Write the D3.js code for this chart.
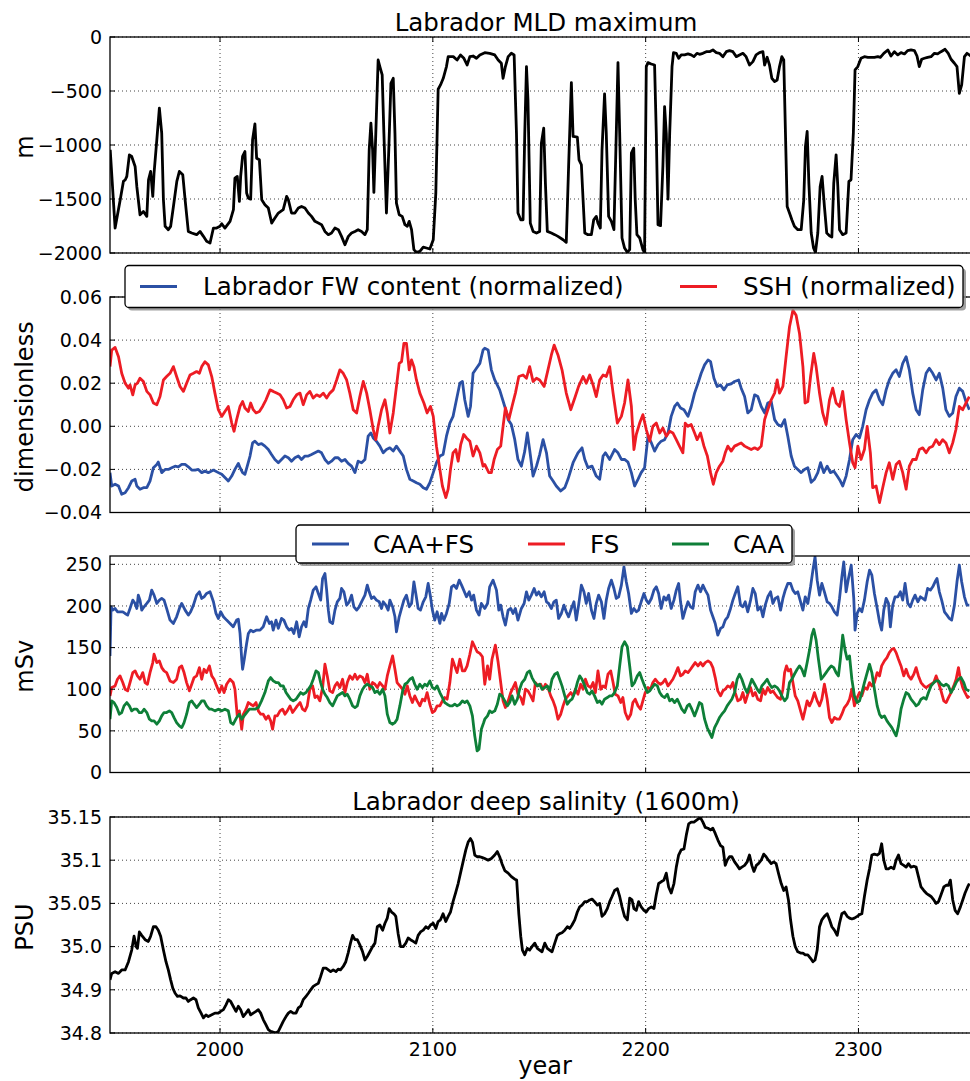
<!DOCTYPE html>
<html>
<head>
<meta charset="utf-8">
<script src="https://cdn.jsdelivr.net/npm/d3@7"></script>
<style>
body { margin: 0; background: #fff; }
text { font-family: "DejaVu Sans", sans-serif; fill: #000; }
</style>
</head>
<body>
<svg id="chart" width="970" height="1081"></svg>
<script>
/* values: [year, value] */
var mld = [[1948.4,-1045],[1950.7,-1769],[1953.1,-1507],[1954.6,-1337],[1955.5,-1322],[1956.2,-1291],[1957.4,-1091],[1958.5,-1106],[1960.1,-1199],[1960.9,-1384],[1962.4,-1646],[1964.0,-1615],[1965.6,-1661],[1966.4,-1322],[1967.4,-1245],[1968.4,-1476],[1969.0,-1260],[1970.3,-952],[1971.5,-659],[1972.6,-891],[1973.4,-1507],[1974.2,-1753],[1975.7,-1784],[1976.8,-1753],[1978.1,-1569],[1979.7,-1337],[1980.9,-1245],[1982.5,-1276],[1983.6,-1507],[1985.1,-1800],[1986.7,-1815],[1989.0,-1830],[1990.6,-1800],[1992.2,-1846],[1993.7,-1892],[1995.3,-1908],[1996.9,-1769],[1998.4,-1769],[2000.0,-1753],[2000.8,-1729],[2002.3,-1769],[2004.7,-1707],[2006.3,-1599],[2007.0,-1307],[2008.1,-1291],[2009.1,-1522],[2009.7,-1291],[2010.6,-1106],[2011.7,-1060],[2012.5,-1445],[2013.3,-1492],[2014.4,-1501],[2015.3,-952],[2016.4,-804],[2017.2,-1122],[2018.5,-1137],[2019.6,-1507],[2021.1,-1553],[2022.7,-1584],[2024.3,-1723],[2025.8,-1676],[2027.4,-1630],[2029.7,-1599],[2031.3,-1476],[2032.1,-1507],[2033.6,-1630],[2035.2,-1630],[2036.8,-1584],[2038.3,-1569],[2039.9,-1584],[2041.5,-1630],[2043.0,-1661],[2044.6,-1707],[2046.2,-1723],[2047.7,-1738],[2049.3,-1800],[2050.9,-1830],[2052.4,-1815],[2054.0,-1769],[2055.6,-1784],[2057.1,-1846],[2058.7,-1923],[2060.3,-1846],[2061.8,-1815],[2063.4,-1800],[2064.9,-1784],[2066.5,-1800],[2068.1,-1830],[2069.2,-1784],[2070.1,-1045],[2070.9,-798],[2071.7,-1045],[2072.3,-1439],[2073.2,-891],[2074.3,-213],[2075.1,-274],[2076.2,-351],[2077.0,-891],[2078.2,-1630],[2079.3,-1045],[2080.3,-428],[2081.4,-382],[2082.2,-891],[2082.9,-1538],[2084.2,-1646],[2085.6,-1661],[2086.9,-1738],[2088.0,-1753],[2088.9,-1707],[2090.0,-1784],[2091.1,-1969],[2092.3,-1994],[2093.9,-1985],[2095.5,-1945],[2097.0,-1954],[2098.6,-1963],[2100.2,-1877],[2101.4,-1445],[2102.5,-484],[2103.6,-444],[2104.9,-382],[2106.4,-274],[2107.2,-182],[2109.6,-182],[2111.4,-213],[2113.0,-166],[2114.6,-197],[2116.1,-259],[2117.4,-182],[2118.9,-176],[2120.5,-197],[2122.1,-166],
[2124.4,-145],[2126.7,-151],[2129.1,-166],[2130.7,-213],[2132.2,-243],[2133.0,-382],[2134.1,-274],[2135.4,-182],[2136.9,-151],[2138.2,-166],[2139.3,-891],[2140.0,-1630],[2141.3,-1692],[2142.4,-1692],[2143.2,-891],[2144.0,-274],[2144.7,-582],[2145.8,-1723],[2147.1,-1800],[2148.7,-1815],[2150.2,-1800],[2151.0,-983],[2152.1,-844],[2152.9,-1353],[2153.8,-1800],[2155.7,-1815],[2157.3,-1830],[2158.8,-1846],[2161.2,-1877],[2162.7,-1901],[2163.8,-1199],[2165.1,-422],[2165.9,-921],[2167.9,-928],[2168.7,-1137],[2169.8,-1183],[2170.6,-1507],[2171.4,-1815],[2172.9,-1830],[2174.5,-1830],[2175.6,-1692],[2176.8,-1661],[2177.6,-1723],[2178.7,-1769],[2179.5,-1045],[2180.7,-527],[2181.5,-891],[2182.6,-1661],[2183.9,-1707],[2185.1,-1784],[2186.2,-891],[2187.0,-237],[2187.8,-891],[2188.9,-1861],[2190.1,-1954],[2191.4,-1994],[2192.5,-1969],[2193.3,-1076],[2194.4,-1029],[2195.1,-1507],[2195.9,-1830],[2197.2,-1861],[2198.7,-1969],[2199.5,-1994],[2200.3,-274],[2201.1,-237],[2202.6,-250],[2204.2,-259],[2205.0,-891],[2205.8,-1738],[2207.0,-1747],[2208.1,-1199],[2208.9,-644],[2209.7,-891],[2210.5,-1501],[2211.3,-891],[2212.4,-274],[2213.1,-145],[2214.4,-151],[2215.5,-197],[2216.7,-166],[2218.3,-166],[2219.9,-157],[2221.4,-166],[2222.7,-182],[2224.1,-151],[2225.3,-160],[2226.9,-151],[2228.5,-136],[2230.0,-136],[2231.6,-120],[2233.2,-145],[2234.7,-151],[2236.3,-182],[2237.9,-136],[2239.4,-126],[2241.0,-136],[2242.6,-182],[2244.1,-166],[2245.7,-151],[2247.2,-182],[2248.8,-259],[2250.4,-228],[2251.9,-166],[2253.5,-145],[2255.1,-136],[2255.9,-259],[2257.1,-188],[2258.2,-259],[2259.3,-382],[2260.6,-413],[2261.8,-398],[2262.9,-274],[2264.0,-182],[2264.9,-213],[2265.7,-891],[2266.5,-1569],[2267.6,-1630],[2268.7,-1692],[2269.9,-1753],[2271.5,-1784],[2273.1,-1784],[2274.3,-1507],[2275.1,-1014],[2275.9,-875],[2276.7,-1353],[2277.8,-1815],[2278.9,-1954],[2279.8,-1994],[2280.9,-1815],[2282.0,-1384],[2282.9,-1291],[2284.0,-1569],[2285.1,-1815],[2286.4,-1840],[2287.5,-1852],[2288.4,-1353],[2289.5,-1091],[2290.3,-1384],[2291.1,-1784],[2292.6,-1830],[2294.2,-1815],[2295.5,-1337],[2296.5,-1322],[2297.6,-891],[2298.4,-305],[2299.7,-274],[2301.2,-197],[2302.8,-182],[2304.4,-188],[2305.9,-188],[2307.5,-188],[2309.1,-182],[2310.3,-188],[2311.9,-151],[2313.8,-120],[2315.3,-176],[2316.9,-136],[2318.5,-166],[2320.0,-145],[2321.6,-157],[2323.1,-126],[2324.7,-120],[2326.3,-126],[2327.5,-176],[2328.6,-274],[2329.7,-206],[2331.0,-197],[2332.5,-188],[2334.1,-182],[2335.7,-151],[2337.2,-157],[2338.8,-136],[2340.7,-114],[2342.2,-151],[2343.5,-206],[2345.1,-243],[2346.3,-274],[2347.4,-521],[2348.5,-444],[2349.8,-182],[2351.0,-151],[2352.1,-166],[2354.5,-200]];

var fwContent = [[1948.3,-0.0215],[1949.1,-0.0277],[1950.7,-0.0269],[1952.3,-0.0277],[1953.8,-0.0315],[1955.4,-0.0308],[1957.0,-0.0285],[1958.5,-0.0254],[1960.1,-0.0246],[1960.9,-0.0277],[1962.4,-0.0292],[1964.0,-0.0285],[1965.6,-0.0285],[1967.1,-0.0254],[1968.7,-0.0192],[1970.3,-0.0177],[1971.0,-0.0166],[1972.6,-0.0215],[1974.2,-0.02],[1975.7,-0.02],[1977.3,-0.0192],[1978.9,-0.0185],[1980.4,-0.0188],[1982.0,-0.0177],[1983.6,-0.0177],[1985.1,-0.0188],[1986.7,-0.0203],[1988.3,-0.0203],[1989.8,-0.02],[1991.4,-0.0215],[1992.9,-0.0208],[1994.5,-0.0215],[1996.9,-0.0203],[1999.2,-0.0215],[2000.8,-0.0223],[2002.3,-0.0238],[2003.9,-0.0254],[2005.5,-0.0231],[2007.0,-0.02],[2008.6,-0.0172],[2009.4,-0.0192],[2010.6,-0.0215],[2011.7,-0.0223],[2012.8,-0.0185],[2014.1,-0.0138],[2015.3,-0.0077],[2016.4,-0.0069],[2018.0,-0.0085],[2019.5,-0.008],[2021.1,-0.0092],[2022.7,-0.0108],[2024.2,-0.0131],[2025.8,-0.0154],[2027.4,-0.0169],[2028.9,-0.0154],[2030.5,-0.0138],[2032.1,-0.0146],[2033.6,-0.0162],[2035.2,-0.0146],[2036.8,-0.0138],[2038.3,-0.0154],[2039.9,-0.0138],[2041.5,-0.0138],[2043.0,-0.0131],[2044.6,-0.0123],[2046.2,-0.0115],[2047.7,-0.0123],[2049.3,-0.0154],[2050.9,-0.0172],[2052.4,-0.0162],[2054.0,-0.0146],[2055.5,-0.0146],[2057.1,-0.0162],[2058.7,-0.0154],[2060.2,-0.0172],[2061.8,-0.0185],[2063.4,-0.0215],[2064.9,-0.0162],[2066.5,-0.0169],[2068.1,-0.0154],[2069.6,-0.0046],[2070.9,-0.0031],[2072.0,-0.0054],[2073.5,-0.0069],[2075.1,-0.0092],[2076.7,-0.0123],[2078.2,-0.0108],[2079.8,-0.01],[2081.4,-0.0115],[2082.9,-0.0092],[2084.5,-0.0115],[2086.1,-0.0138],[2087.6,-0.02],[2089.2,-0.0246],[2090.8,-0.0254],[2092.3,-0.0262],[2093.9,-0.0269],[2095.5,-0.0285],[2097.0,-0.0292],[2098.6,-0.0262],[2100.2,-0.0215],[2101.7,-0.0169],[2103.3,-0.0138],[2104.8,-0.0131],[2106.4,-0.0046],[2108.0,0.0015],[2109.5,0.0046],[2111.1,0.0123],[2112.7,0.02],[2113.9,0.0208],[2115.0,0.0123],[2116.6,0.0046],[2117.7,0.0092],[2118.9,0.0246],[2120.5,0.0269],[2122.1,0.0292],[2123.6,0.0354],
[2124.4,0.0362],[2126.0,0.0354],[2127.5,0.0262],[2129.1,0.0215],[2131.4,0.0169],[2133.8,0.0092],[2135.4,0.0031],[2136.9,0.0008],[2138.5,-0.0062],[2140.0,-0.0154],[2141.6,-0.0185],[2143.2,-0.0115],[2144.4,-0.0031],[2145.5,-0.0108],[2147.1,-0.0231],[2148.7,-0.0185],[2150.2,-0.0131],[2151.8,-0.0062],[2153.4,-0.0123],[2154.9,-0.0231],[2156.5,-0.0254],[2158.0,-0.0277],[2160.1,-0.03],[2162.0,-0.0285],[2163.5,-0.0246],[2165.9,-0.0169],[2168.2,-0.0123],[2170.1,-0.01],[2171.4,-0.0154],[2172.9,-0.0192],[2174.8,-0.0185],[2176.8,-0.0231],[2178.4,-0.0246],[2180.0,-0.0138],[2181.1,-0.0123],[2183.1,-0.0154],[2185.4,-0.0108],[2187.0,-0.0123],[2188.6,-0.0154],[2190.1,-0.0154],[2191.7,-0.0166],[2193.3,-0.0215],[2194.8,-0.0277],[2196.4,-0.0246],[2197.9,-0.0215],[2199.5,-0.0192],[2201.1,-0.0046],[2202.7,-0.0077],[2204.2,-0.0115],[2205.8,-0.0085],[2207.3,-0.0069],[2208.9,-0.0062],[2210.5,-0.0031],[2212.0,0.0046],[2213.6,0.0092],[2214.9,0.0108],[2216.4,0.0085],[2218.0,0.0077],[2219.9,0.0046],[2221.4,0.0092],[2223.0,0.0154],[2224.6,0.02],[2226.1,0.0246],[2227.7,0.0285],[2229.3,0.0308],[2230.5,0.03],[2232.1,0.0223],[2233.6,0.0185],[2235.2,0.0192],[2236.8,0.0169],[2238.3,0.0192],[2240.2,0.0197],[2241.8,0.0208],[2243.7,0.0215],[2244.9,0.0177],[2246.5,0.0138],[2248.0,0.0062],[2249.6,0.0077],[2251.2,0.0146],[2252.7,0.0138],[2254.3,0.0092],[2255.9,0.0062],[2257.4,0.0108],[2259.0,0.0115],[2260.6,0.0031],[2262.1,0.0008],[2263.7,0.0],[2265.3,0.0031],[2266.8,-0.0046],[2268.4,-0.0138],[2269.9,-0.0185],[2271.5,-0.02],[2273.1,-0.0215],[2274.6,-0.02],[2276.2,-0.0192],[2277.8,-0.026],[2279.3,-0.0246],[2280.9,-0.0215],[2282.2,-0.0169],[2283.7,-0.0215],[2285.3,-0.0185],[2286.8,-0.0215],[2288.4,-0.0208],[2290.0,-0.0231],[2291.5,-0.0254],[2292.6,-0.0277],[2294.2,-0.0231],[2295.8,-0.0154],[2297.3,-0.0062],[2298.9,-0.0038],[2300.5,-0.0054],[2302.0,0.0],[2303.6,0.0077],[2305.2,0.0123],[2306.7,0.0154],[2308.3,0.0169],[2309.9,0.0123],[2311.4,0.01],[2313.0,0.0169],[2314.5,0.0215],[2316.1,0.0246],[2317.7,0.0262],[2319.2,0.0231],[2320.8,0.0292],[2322.4,0.0323],[2323.9,0.0262],[2325.5,0.0154],[2327.1,0.0077],[2328.6,0.0054],[2330.2,0.0169],[2331.8,0.0246],[2333.3,0.0269],[2334.9,0.0246],[2336.5,0.0215],[2338.0,0.0246],[2339.6,0.0177],[2341.1,0.0077],[2342.7,0.0046],[2344.3,0.0062],[2345.8,0.0138],[2347.4,0.0177],[2349.0,0.0162],[2350.5,0.0115],[2352.1,0.0077]];

var ssh = [[1948.3,0.0277],[1949.1,0.0354],[1950.7,0.0366],[1952.3,0.0323],[1953.8,0.0246],[1955.4,0.02],[1957.0,0.0177],[1957.7,0.0192],[1959.0,0.0146],[1960.1,0.0192],[1961.2,0.02],[1962.4,0.0223],[1964.0,0.0208],[1965.6,0.0162],[1967.1,0.0146],[1968.7,0.0108],[1970.3,0.01],[1971.8,0.0138],[1973.4,0.0215],[1974.9,0.0231],[1976.5,0.0246],[1978.1,0.0277],[1979.6,0.0231],[1981.2,0.0185],[1982.8,0.0162],[1984.3,0.02],[1985.9,0.0238],[1987.5,0.0246],[1989.0,0.0254],[1990.3,0.0246],[1991.4,0.0277],[1992.9,0.03],[1994.5,0.0285],[1996.1,0.0231],[1997.6,0.0154],[1999.2,0.0077],[2000.8,0.0046],[2002.3,0.0069],[2003.9,0.0092],[2005.5,0.0015],[2006.6,-0.0023],[2007.8,0.0031],[2009.4,0.0092],[2010.6,0.0115],[2011.7,0.0085],[2013.3,0.0069],[2014.4,0.0108],[2015.6,0.0077],[2016.9,0.0062],[2018.5,0.0069],[2020.0,0.0092],[2021.6,0.0123],[2023.5,0.0169],[2025.0,0.0162],[2026.6,0.0154],[2028.2,0.0146],[2029.7,0.0123],[2031.3,0.0085],[2032.9,0.0092],[2034.4,0.0123],[2036.0,0.0146],[2037.6,0.0154],[2039.1,0.01],[2040.7,0.0146],[2042.2,0.0162],[2043.8,0.0131],[2045.4,0.0146],[2046.9,0.0138],[2048.5,0.0154],[2050.1,0.0131],[2051.6,0.0154],[2053.2,0.0169],[2054.8,0.0215],[2056.3,0.0262],[2057.9,0.0246],[2059.5,0.0215],[2061.0,0.0154],[2062.6,0.0077],[2064.2,0.0062],[2065.7,0.0138],[2067.3,0.0208],[2068.9,0.0154],[2070.4,0.0077],[2072.0,-0.0015],[2073.2,-0.0062],[2074.3,0.0],[2075.9,0.0077],[2077.5,0.0123],[2078.6,0.0062],[2079.8,-0.0031],[2081.4,0.0062],[2082.9,0.0185],[2084.2,0.0292],[2085.3,0.03],[2086.4,0.0385],[2087.6,0.0385],[2088.9,0.0262],[2090.0,0.0308],[2091.1,0.0277],[2092.3,0.0215],[2093.9,0.0154],[2095.8,0.0108],[2097.3,0.0062],[2098.9,0.0092],[2100.2,0.0046],[2101.7,-0.0092],[2103.3,-0.02],[2104.5,-0.0277],[2106.1,-0.0331],[2107.2,-0.0292],[2108.3,-0.02],[2109.5,-0.0123],[2110.8,-0.0108],[2111.9,-0.0162],[2113.1,-0.0085],[2114.5,-0.0038],[2115.8,-0.0054],[2117.4,-0.0069],[2118.9,-0.0138],[2120.5,-0.0092],[2122.1,-0.0123],[2123.6,-0.0185],
[2124.4,-0.0177],[2126.3,-0.0215],[2127.5,-0.0215],[2128.8,-0.0154],[2130.3,-0.0108],[2131.9,-0.0092],[2133.0,0.0],[2134.1,0.0085],[2135.7,0.0031],[2137.2,0.0092],[2138.8,0.0154],[2140.4,0.0231],[2142.4,0.0238],[2144.0,0.0223],[2145.5,0.0277],[2147.1,0.0208],[2148.7,0.0223],[2150.2,0.0215],[2152.3,0.0185],[2154.1,0.0262],[2155.7,0.0331],[2157.0,0.0377],[2158.8,0.0331],[2160.7,0.0262],[2162.7,0.0154],[2164.8,0.0077],[2166.7,0.0131],[2168.5,0.0185],[2170.6,0.0231],[2172.1,0.02],[2173.7,0.0238],[2175.3,0.0192],[2176.8,0.0138],[2178.4,0.0215],[2180.0,0.0238],[2181.5,0.0231],[2183.1,0.0277],[2184.7,0.0154],[2186.7,0.0015],[2188.6,0.0046],[2190.1,0.0108],[2191.7,0.0215],[2193.3,0.0092],[2194.5,-0.0108],[2195.6,-0.0038],[2197.2,0.0015],[2198.7,0.0054],[2200.3,-0.0015],[2201.9,-0.0069],[2203.4,0.0],[2205.0,0.0015],[2206.6,-0.0031],[2208.1,-0.0008],[2209.7,-0.0046],[2211.3,-0.0023],[2212.8,-0.0031],[2214.4,-0.0062],[2215.9,-0.0092],[2217.5,-0.0123],[2218.6,0.0015],[2219.9,0.0],[2221.4,0.0008],[2223.0,-0.0031],[2224.2,-0.0062],[2225.8,-0.0031],[2227.4,-0.0092],[2229.0,-0.0138],[2230.5,-0.0215],[2231.8,-0.0269],[2233.2,-0.0215],[2234.7,-0.0185],[2236.3,-0.0162],[2237.4,-0.0123],[2238.6,-0.0092],[2240.2,-0.0115],[2241.8,-0.0092],[2243.3,-0.0085],[2244.9,-0.0077],[2246.5,-0.0092],[2248.0,-0.01],[2249.6,-0.0108],[2251.2,-0.01],[2252.7,-0.0108],[2254.3,-0.0092],[2255.9,0.0031],[2257.4,0.0077],[2259.0,0.0123],[2260.6,0.0154],[2261.8,0.0215],[2262.9,0.0154],[2264.5,0.0185],[2266.0,0.0323],[2267.6,0.0462],[2269.2,0.0538],[2270.7,0.0515],[2272.3,0.0431],[2273.9,0.0277],[2274.9,0.0108],[2276.2,0.0115],[2277.5,0.0231],[2279.0,0.0338],[2280.1,0.0277],[2281.7,0.0154],[2283.2,0.0062],[2284.8,0.0008],[2286.4,0.0123],[2287.9,0.0177],[2289.5,0.0108],[2291.1,0.0092],[2292.6,0.0162],[2294.2,0.0031],[2295.8,-0.0077],[2297.3,-0.0169],[2298.4,-0.0192],[2299.7,-0.0092],[2301.2,-0.0154],[2302.8,-0.0108],[2304.1,0.0],[2305.6,-0.0123],[2306.7,-0.0285],[2308.3,-0.0277],[2309.9,-0.0354],[2311.4,-0.0285],[2313.0,-0.0215],[2314.5,-0.0169],[2316.1,-0.0246],[2317.7,-0.0177],[2319.2,-0.0162],[2320.8,-0.0215],[2322.4,-0.0292],[2323.9,-0.0185],[2325.5,-0.0154],[2327.1,-0.0154],[2328.6,-0.0108],[2330.2,-0.01],[2331.8,-0.0123],[2333.3,-0.01],[2334.9,-0.0092],[2336.5,-0.0062],[2338.0,-0.0085],[2339.6,-0.0062],[2341.1,-0.0077],[2342.7,-0.0123],[2344.3,-0.0077],[2345.8,-0.0015],[2347.4,0.0092],[2349.0,0.0077],[2350.5,0.0108],[2352.1,0.0138]];

var caaFs = [[1948.3,140],[1948.8,199],[1949.6,195],[1950.7,197],[1951.8,193],[1953.0,193],[1954.3,193],[1955.4,191],[1956.6,189],[1957.7,197],[1959.0,207],[1960.1,203],[1960.9,197],[1961.6,213],[1962.4,207],[1963.2,195],[1964.3,199],[1965.6,203],[1966.8,207],[1967.9,219],[1969.0,213],[1970.3,203],[1971.5,207],[1972.6,209],[1973.7,207],[1974.9,197],[1976.5,183],[1978.1,179],[1979.6,187],[1980.9,197],[1982.0,203],[1983.6,195],[1985.1,189],[1986.2,193],[1987.5,201],[1989.0,213],[1990.3,217],[1991.4,209],[1992.5,211],[1993.7,215],[1995.3,217],[1996.9,205],[1998.1,191],[1999.2,185],[2000.3,193],[2001.6,187],[2003.1,183],[2004.7,179],[2006.2,175],[2007.8,183],[2008.6,184],[2009.4,167],[2010.2,136],[2010.6,124],[2011.4,136],[2012.5,155],[2013.3,167],[2014.4,171],[2015.6,169],[2017.2,171],[2018.8,171],[2020.3,175],[2021.9,187],[2023.2,179],[2024.2,181],[2025.0,171],[2026.3,183],[2027.4,173],[2028.9,185],[2030.0,183],[2031.3,175],[2032.5,171],[2033.6,173],[2034.7,167],[2036.0,181],[2037.2,163],[2038.3,175],[2039.4,181],[2040.4,175],[2041.5,197],[2042.6,207],[2043.8,219],[2045.1,223],[2046.2,215],[2047.3,207],[2048.2,233],[2049.3,239],[2050.1,219],[2050.9,195],[2051.6,181],[2052.9,179],[2054.0,195],[2055.1,205],[2056.3,209],[2057.1,221],[2058.2,217],[2059.5,201],[2060.7,205],[2061.8,213],[2062.9,199],[2064.2,195],[2065.4,199],[2066.5,205],[2068.1,213],[2069.2,225],[2070.1,217],[2071.2,209],[2072.3,211],[2073.5,207],[2074.8,205],[2075.9,197],[2076.7,205],[2077.9,201],[2079.0,195],[2079.8,207],[2081.1,199],[2082.2,187],[2082.9,169],[2084.2,187],[2085.3,197],[2086.4,207],[2087.6,213],[2088.9,199],[2090.0,203],[2091.1,229],[2092.0,215],[2093.1,197],[2094.2,195],[2095.5,205],[2096.7,211],[2097.8,227],[2098.9,211],[2099.8,195],[2100.9,183],[2102.0,193],[2103.3,179],[2104.1,191],[2105.2,183],[2106.4,191],[2107.7,203],[2108.8,223],[2109.9,225],[2111.1,221],[2112.4,231],[2113.5,225],[2114.5,219],[2115.8,211],[2117.1,217],[2118.2,207],[2119.2,213],[2120.5,195],[2121.7,189],[2122.8,203],
[2124.4,197],[2125.7,203],[2126.7,223],[2128.3,231],[2129.9,219],[2131.0,195],[2131.9,201],[2133.0,187],[2134.1,177],[2135.4,195],[2136.6,197],[2137.7,191],[2138.8,197],[2140.0,183],[2141.6,197],[2142.9,203],[2144.0,217],[2145.1,207],[2146.3,213],[2147.6,221],[2148.7,213],[2149.8,217],[2151.0,211],[2152.3,217],[2153.4,205],[2154.4,203],[2155.7,197],[2156.9,205],[2158.0,207],[2159.1,185],[2160.4,191],[2161.6,201],[2162.7,193],[2163.8,187],[2165.1,197],[2166.3,205],[2167.4,183],[2168.5,201],[2169.8,225],[2171.0,217],[2172.1,203],[2173.2,215],[2174.5,195],[2175.7,185],[2176.8,203],[2177.9,213],[2179.2,205],[2180.4,185],[2181.5,207],[2182.6,221],[2183.9,231],[2185.1,221],[2186.2,209],[2187.3,211],[2188.6,225],[2189.8,247],[2190.9,229],[2192.0,215],[2193.3,191],[2194.5,197],[2195.6,193],[2196.7,195],[2197.9,205],[2199.2,215],[2200.3,207],[2201.4,203],[2202.7,209],[2203.9,219],[2205.0,223],[2206.1,215],[2207.3,197],[2208.6,211],[2209.7,207],[2210.8,213],[2212.0,197],[2213.3,207],[2214.4,219],[2215.5,227],[2216.4,205],[2217.5,185],[2218.6,195],[2219.9,205],[2221.1,199],[2222.2,197],[2223.3,217],[2224.6,225],[2225.8,217],[2226.9,225],[2228.0,219],[2229.3,213],[2230.5,195],[2231.6,187],[2232.7,179],[2233.9,165],[2235.2,173],[2236.3,175],[2237.4,183],[2238.6,187],[2239.9,197],[2241.0,207],[2242.1,215],[2243.3,223],[2244.6,201],[2245.7,199],[2246.8,205],[2248.0,193],[2249.3,207],[2250.4,221],[2251.5,215],[2252.7,195],[2254.0,199],[2255.1,187],[2256.2,201],[2257.4,211],[2258.7,217],[2259.8,203],[2260.9,209],[2262.1,211],[2263.4,195],[2264.5,209],[2265.6,219],[2266.8,227],[2268.1,227],[2269.2,219],[2270.3,215],[2271.5,217],[2272.8,205],[2273.9,195],[2275.0,211],[2276.2,203],[2277.5,223],[2278.6,243],[2279.6,259],[2280.6,231],[2281.7,213],[2282.8,227],[2284.0,217],[2285.3,205],[2286.4,203],[2287.5,199],[2288.7,193],[2290.0,189],[2291.1,209],[2292.2,235],[2293.1,253],[2294.2,217],[2295.3,233],[2296.6,249],[2297.8,209],[2298.4,171],[2299.4,191],[2300.5,197],[2301.6,193],[2302.8,207],[2304.1,229],[2305.2,243],[2306.3,237],[2307.5,215],[2308.8,197],[2309.9,181],[2310.9,171],[2311.9,195],[2313.0,209],[2314.1,203],[2315.0,175],[2316.1,201],[2317.2,211],[2318.5,211],[2319.7,217],[2320.8,207],[2321.9,227],[2323.2,203],[2324.4,199],[2325.5,207],[2326.6,213],[2327.9,205],[2329.1,211],[2330.2,209],[2331.3,207],[2332.5,221],[2333.8,219],[2334.9,223],[2336.0,229],[2336.9,233],[2338.0,217],[2339.1,207],[2340.4,193],[2341.6,189],[2342.7,185],[2343.8,183],[2345.1,201],[2346.3,229],[2347.4,249],[2348.5,229],[2349.8,211],[2351.0,201],[2352.1,201]];

var fs = [[1948.3,92],[1949.1,102],[1950.7,104],[1951.8,112],[1953.0,116],[1954.3,108],[1955.4,100],[1956.6,98],[1957.7,108],[1959.0,120],[1960.1,122],[1961.2,116],[1962.4,112],[1963.7,120],[1964.8,108],[1965.9,106],[1967.1,120],[1968.4,132],[1969.0,142],[1970.3,132],[1971.5,134],[1972.6,126],[1973.7,122],[1974.9,120],[1976.5,110],[1978.1,108],[1979.6,112],[1980.9,126],[1982.0,128],[1983.1,120],[1984.3,108],[1985.6,98],[1986.7,106],[1987.8,114],[1989.0,116],[1990.3,126],[1991.4,112],[1992.5,124],[1993.7,120],[1995.0,128],[1996.1,116],[1997.2,112],[1998.4,104],[1999.7,96],[2000.8,104],[2001.9,96],[2003.1,106],[2004.7,112],[2006.2,108],[2007.0,100],[2008.1,68],[2009.1,74],[2010.2,52],[2011.0,70],[2012.2,76],[2013.3,84],[2014.4,82],[2015.6,80],[2016.9,84],[2018.0,74],[2019.1,70],[2020.3,70],[2021.6,64],[2022.7,68],[2023.8,62],[2024.7,52],[2025.8,68],[2026.9,68],[2028.2,74],[2029.4,76],[2030.5,70],[2031.6,74],[2032.9,80],[2034.1,72],[2035.2,76],[2036.3,80],[2037.6,84],[2038.8,76],[2039.9,74],[2041.0,80],[2042.2,100],[2043.5,104],[2044.6,90],[2045.7,92],[2046.9,86],[2048.2,102],[2049.3,130],[2050.4,116],[2051.6,98],[2052.9,96],[2054.0,104],[2055.1,108],[2056.3,102],[2057.6,112],[2058.7,96],[2059.8,108],[2061.0,116],[2062.3,112],[2063.4,118],[2064.5,112],[2065.7,116],[2067.0,114],[2068.1,108],[2069.2,118],[2070.4,100],[2071.7,108],[2072.8,106],[2073.9,102],[2075.1,108],[2076.4,104],[2077.5,100],[2078.6,116],[2079.8,128],[2081.1,140],[2082.2,124],[2083.2,108],[2084.5,104],[2085.8,100],[2086.9,94],[2088.0,104],[2089.2,92],[2090.4,84],[2091.5,92],[2092.6,86],[2093.9,80],[2095.1,88],[2096.2,86],[2097.3,96],[2098.6,82],[2099.8,72],[2100.9,74],[2102.0,80],[2103.3,80],[2104.5,86],[2105.6,90],[2106.7,88],[2108.0,108],[2109.2,136],[2110.3,128],[2111.4,120],[2112.7,136],[2113.9,122],[2115.0,122],[2116.1,128],[2117.4,142],[2118.6,157],[2119.7,151],[2120.8,145],[2122.1,143],[2123.3,139],
[2124.4,106],[2125.7,128],[2126.7,112],[2127.8,136],[2129.4,153],[2130.7,132],[2131.9,108],[2133.0,86],[2134.1,78],[2135.4,86],[2136.6,96],[2137.7,102],[2138.8,108],[2140.0,94],[2141.3,90],[2142.4,82],[2143.5,100],[2144.7,98],[2146.0,92],[2147.1,86],[2148.2,108],[2149.4,104],[2150.7,106],[2151.8,100],[2152.9,106],[2154.1,102],[2155.4,92],[2156.5,86],[2157.6,78],[2158.8,64],[2160.1,70],[2161.2,80],[2162.3,88],[2163.5,92],[2164.8,96],[2165.9,92],[2167.0,100],[2168.2,94],[2169.5,106],[2170.6,100],[2171.7,112],[2172.9,104],[2174.2,102],[2175.3,108],[2176.4,96],[2177.6,122],[2178.9,100],[2180.0,104],[2181.1,102],[2182.3,118],[2183.6,122],[2184.7,108],[2185.7,94],[2187.0,92],[2188.3,84],[2189.3,90],[2190.4,72],[2191.7,64],[2193.0,70],[2194.0,84],[2195.1,88],[2196.4,80],[2197.6,76],[2198.7,86],[2199.8,96],[2201.1,102],[2202.3,100],[2203.4,108],[2204.5,112],[2205.8,108],[2207.0,106],[2208.1,108],[2209.2,112],[2210.5,104],[2211.7,108],[2212.8,112],[2213.9,118],[2215.2,126],[2216.4,116],[2217.5,118],[2218.6,122],[2219.9,120],[2221.1,124],[2222.2,128],[2223.3,132],[2224.6,128],[2225.8,132],[2226.9,128],[2228.0,132],[2229.3,134],[2230.5,132],[2231.6,126],[2232.7,114],[2233.9,98],[2235.2,92],[2236.3,98],[2237.4,100],[2238.6,104],[2239.9,102],[2241.0,108],[2242.1,96],[2243.3,86],[2244.6,88],[2245.7,96],[2246.8,84],[2248.0,94],[2249.3,102],[2250.4,92],[2251.5,96],[2252.7,88],[2254.0,86],[2255.1,100],[2256.2,94],[2257.4,102],[2258.7,96],[2259.8,98],[2260.9,94],[2262.1,90],[2263.4,88],[2264.5,100],[2265.3,120],[2266.2,128],[2267.1,122],[2268.1,124],[2269.2,108],[2270.3,92],[2271.5,86],[2272.8,74],[2273.9,64],[2275.0,76],[2275.9,86],[2277.0,80],[2278.1,86],[2279.3,96],[2280.6,86],[2281.7,80],[2282.8,88],[2284.0,106],[2285.3,88],[2286.4,66],[2287.5,60],[2288.7,66],[2290.0,64],[2291.1,64],[2292.2,70],[2293.4,78],[2294.7,82],[2295.8,88],[2296.9,100],[2298.1,80],[2299.4,90],[2300.5,96],[2301.6,92],[2302.8,102],[2304.1,100],[2305.2,108],[2306.3,104],[2307.5,108],[2308.8,120],[2309.9,116],[2310.9,128],[2312.2,134],[2313.4,138],[2314.5,144],[2315.7,148],[2316.6,149],[2317.7,144],[2318.8,136],[2320.0,128],[2321.3,116],[2322.4,124],[2323.5,116],[2324.7,112],[2326.0,118],[2327.1,126],[2328.2,116],[2329.4,108],[2330.7,104],[2331.8,102],[2332.9,104],[2334.1,106],[2335.4,108],[2336.5,116],[2337.6,108],[2338.8,98],[2340.1,86],[2341.2,84],[2342.3,90],[2343.5,96],[2344.8,104],[2345.9,112],[2347.0,126],[2347.9,112],[2349.0,102],[2350.1,96],[2351.3,90],[2352.1,92]];

var caa = [[1948.3,64],[1949.1,86],[1950.2,84],[1951.5,78],[1952.7,70],[1953.8,72],[1954.9,80],[1956.2,84],[1957.4,80],[1958.5,74],[1959.6,76],[1960.9,76],[1962.1,72],[1963.2,72],[1964.3,76],[1965.6,72],[1966.8,64],[1967.9,62],[1969.0,62],[1970.3,58],[1971.5,62],[1972.6,68],[1973.7,72],[1974.9,72],[1976.2,74],[1977.3,72],[1978.4,66],[1979.6,60],[1980.9,56],[1982.0,54],[1983.1,60],[1984.3,70],[1985.6,84],[1986.7,86],[1987.8,82],[1989.0,78],[1990.3,82],[1991.4,86],[1992.5,86],[1993.7,80],[1995.0,76],[1996.1,76],[1997.6,74],[1999.2,76],[2000.8,74],[2002.3,76],[2003.9,74],[2005.0,60],[2006.2,58],[2007.8,66],[2009.1,70],[2010.2,64],[2011.3,68],[2012.5,72],[2013.8,76],[2014.9,76],[2016.4,76],[2018.0,78],[2019.5,86],[2021.1,96],[2022.7,110],[2023.8,114],[2025.0,110],[2026.3,108],[2027.4,108],[2028.5,104],[2029.7,104],[2031.0,96],[2032.1,92],[2033.2,88],[2034.4,86],[2035.7,88],[2036.8,92],[2037.9,96],[2039.1,94],[2040.4,96],[2041.5,100],[2042.6,104],[2043.8,112],[2045.1,122],[2046.2,120],[2047.3,108],[2048.2,100],[2049.3,94],[2050.4,90],[2051.6,84],[2052.9,80],[2054.0,86],[2055.1,92],[2056.3,94],[2057.6,96],[2058.7,92],[2059.8,94],[2061.0,88],[2062.3,80],[2063.4,78],[2064.5,80],[2065.7,92],[2067.0,100],[2068.1,104],[2069.2,106],[2070.4,104],[2071.7,102],[2072.8,96],[2073.9,98],[2075.1,94],[2076.4,100],[2077.5,92],[2078.6,70],[2079.8,60],[2081.1,58],[2082.2,60],[2083.2,64],[2084.5,80],[2085.8,98],[2086.9,106],[2088.0,108],[2089.2,112],[2090.4,114],[2091.5,106],[2092.6,100],[2093.9,106],[2095.1,102],[2096.2,106],[2097.3,104],[2098.6,110],[2099.8,102],[2100.9,100],[2102.0,104],[2103.3,96],[2104.5,90],[2105.6,84],[2106.7,82],[2108.0,80],[2109.2,80],[2110.3,82],[2111.4,80],[2112.7,82],[2113.9,86],[2115.0,84],[2116.1,86],[2117.4,80],[2118.6,68],[2119.7,44],[2120.8,26],[2121.7,28],[2122.8,52],[2123.9,60],
[2124.4,64],[2125.7,68],[2126.7,74],[2127.8,72],[2129.1,74],[2130.3,82],[2131.4,94],[2132.5,92],[2133.8,86],[2135.0,80],[2136.1,84],[2137.2,92],[2138.5,82],[2139.7,88],[2140.8,100],[2141.9,108],[2143.2,112],[2144.4,120],[2145.5,122],[2146.6,114],[2147.9,108],[2149.1,104],[2150.2,106],[2151.3,100],[2152.6,102],[2153.8,104],[2154.9,98],[2156.0,112],[2157.3,118],[2158.5,120],[2159.6,112],[2160.7,104],[2162.0,92],[2163.2,82],[2164.3,86],[2165.4,88],[2166.7,96],[2167.9,108],[2169.0,116],[2170.1,112],[2171.4,104],[2172.6,96],[2173.7,94],[2174.8,98],[2176.0,92],[2177.3,84],[2178.4,86],[2179.5,82],[2180.7,88],[2182.0,90],[2183.1,92],[2184.2,92],[2185.4,96],[2186.7,104],[2187.8,128],[2188.9,151],[2190.1,157],[2191.4,151],[2192.5,128],[2193.6,104],[2194.8,108],[2196.1,116],[2197.2,120],[2198.3,112],[2199.5,104],[2200.8,96],[2201.9,98],[2203.0,102],[2204.2,106],[2205.5,104],[2206.6,96],[2207.7,92],[2208.9,90],[2210.2,94],[2211.3,86],[2212.4,88],[2213.6,84],[2214.9,88],[2216.0,82],[2217.0,76],[2218.3,72],[2219.6,80],[2220.6,82],[2221.7,76],[2223.0,68],[2224.2,76],[2225.3,84],[2226.4,82],[2227.7,64],[2228.9,54],[2230.0,48],[2231.1,42],[2232.4,54],[2233.6,60],[2234.7,66],[2235.8,70],[2237.1,74],[2238.3,80],[2239.4,84],[2240.5,88],[2241.8,96],[2243.0,112],[2244.1,118],[2245.2,112],[2246.5,102],[2247.7,96],[2248.8,104],[2249.9,112],[2251.2,106],[2252.4,100],[2253.5,96],[2254.6,104],[2255.9,108],[2257.1,112],[2258.2,106],[2259.3,102],[2260.6,104],[2261.8,102],[2262.9,98],[2264.0,92],[2265.3,86],[2266.5,90],[2267.6,108],[2268.7,112],[2269.9,118],[2271.2,124],[2272.3,128],[2273.4,124],[2274.6,116],[2275.9,132],[2277.0,147],[2278.1,165],[2279.0,172],[2280.1,159],[2281.2,136],[2282.5,112],[2283.7,116],[2284.8,120],[2285.9,124],[2287.2,128],[2288.4,126],[2289.5,120],[2290.6,116],[2291.5,136],[2292.6,165],[2293.7,147],[2294.7,136],[2295.8,140],[2296.9,112],[2298.1,92],[2299.4,84],[2300.5,86],[2301.6,96],[2302.8,108],[2304.1,120],[2305.2,130],[2306.3,120],[2307.5,100],[2308.8,80],[2309.9,70],[2310.9,66],[2312.2,68],[2313.4,62],[2314.5,58],[2315.7,54],[2316.9,48],[2317.7,44],[2318.8,56],[2320.0,76],[2321.3,88],[2322.4,96],[2323.5,94],[2324.7,88],[2326.0,84],[2327.1,80],[2328.2,82],[2329.4,88],[2330.7,90],[2331.8,88],[2332.9,96],[2334.1,104],[2335.4,108],[2336.5,110],[2337.6,110],[2338.8,106],[2340.1,104],[2341.2,106],[2342.3,104],[2343.5,96],[2344.8,102],[2345.9,108],[2347.0,112],[2348.2,114],[2349.5,108],[2350.5,100],[2352.1,98]];

var salinity = [[1948.3,34.923],[1949.1,34.938],[1950.7,34.942],[1952.3,34.938],[1953.8,34.946],[1955.4,34.946],[1957.0,34.965],[1958.5,34.992],[1959.6,35.012],[1960.6,35.0],[1961.2,34.996],[1962.1,35.017],[1963.2,35.013],[1964.8,35.008],[1966.3,35.006],[1967.4,35.012],[1968.7,35.023],[1969.9,35.023],[1971.0,35.019],[1972.1,35.012],[1973.4,34.992],[1974.6,34.965],[1975.7,34.946],[1976.8,34.923],[1977.8,34.904],[1978.9,34.892],[1980.0,34.885],[1981.2,34.886],[1982.8,34.881],[1984.0,34.881],[1985.1,34.873],[1986.2,34.877],[1987.5,34.881],[1988.7,34.877],[1989.8,34.858],[1991.1,34.846],[1992.2,34.835],[1993.4,34.842],[1994.5,34.838],[1996.1,34.842],[1997.6,34.846],[1999.2,34.846],[2000.3,34.85],[2001.6,34.854],[2002.8,34.865],[2003.9,34.877],[2005.0,34.873],[2006.2,34.862],[2007.5,34.85],[2008.6,34.862],[2009.7,34.854],[2010.9,34.838],[2012.2,34.846],[2013.3,34.854],[2014.4,34.842],[2015.6,34.846],[2016.9,34.85],[2018.0,34.854],[2019.1,34.846],[2020.3,34.831],[2021.6,34.819],[2022.7,34.808],[2023.8,34.804],[2025.0,34.802],[2026.3,34.8],[2027.4,34.804],[2028.5,34.815],[2029.7,34.827],[2031.0,34.838],[2032.1,34.846],[2033.2,34.85],[2034.4,34.846],[2035.7,34.846],[2036.8,34.858],[2037.9,34.862],[2039.1,34.877],[2040.4,34.885],[2041.5,34.892],[2042.6,34.9],[2043.8,34.908],[2045.1,34.912],[2046.2,34.915],[2047.3,34.931],[2048.5,34.95],[2049.8,34.95],[2050.9,34.946],[2052.0,34.942],[2053.2,34.946],[2054.5,34.942],[2055.5,34.948],[2056.6,34.946],[2057.9,34.954],[2059.1,34.965],[2060.2,34.985],[2061.3,35.004],[2062.3,35.013],[2063.4,35.008],[2064.5,35.008],[2065.7,35.002],[2067.0,34.988],[2068.1,34.969],[2069.2,34.977],[2070.4,34.988],[2071.7,35.0],[2072.8,35.004],[2073.9,35.023],[2075.1,35.025],[2076.4,35.019],[2077.5,35.027],[2078.6,35.033],[2079.5,35.044],[2080.6,35.04],[2081.7,35.038],[2082.6,35.035],[2083.7,35.015],[2084.8,35.0],[2086.1,35.0],[2087.3,35.004],[2088.4,35.01],[2089.5,35.008],[2090.8,35.006],[2092.0,35.004],[2093.1,35.013],[2094.2,35.017],[2095.5,35.019],[2096.7,35.023],[2097.8,35.021],[2098.9,35.025],[2100.2,35.027],[2101.4,35.021],[2102.5,35.029],[2103.6,35.031],[2104.8,35.038],[2106.1,35.029],[2107.2,35.035],[2108.3,35.04],[2109.5,35.052],[2110.8,35.063],[2111.9,35.073],[2113.0,35.085],[2114.2,35.098],[2115.5,35.112],[2116.6,35.121],[2117.7,35.125],[2118.6,35.121],[2119.7,35.106],[2120.8,35.104],[2122.1,35.104],[2123.3,35.103],
[2124.4,35.102],[2126.0,35.1],[2127.5,35.102],[2129.1,35.106],[2130.3,35.11],[2131.4,35.104],[2132.5,35.096],[2133.8,35.088],[2135.4,35.085],[2136.9,35.081],[2138.5,35.078],[2139.4,35.077],[2140.4,35.038],[2141.3,35.012],[2142.1,34.992],[2143.2,34.981],[2144.4,34.996],[2145.5,34.992],[2146.6,35.0],[2147.9,35.004],[2149.1,34.996],[2150.2,34.992],[2151.3,34.988],[2152.6,35.004],[2153.8,34.996],[2154.9,34.992],[2156.0,34.988],[2157.3,35.004],[2158.5,35.013],[2159.6,35.015],[2160.7,35.016],[2162.0,35.019],[2163.2,35.023],[2164.3,35.021],[2165.4,35.025],[2166.7,35.031],[2167.9,35.04],[2169.0,35.046],[2170.1,35.048],[2171.4,35.052],[2172.6,35.052],[2173.7,35.054],[2174.8,35.055],[2176.0,35.052],[2177.3,35.048],[2178.4,35.05],[2179.5,35.035],[2180.7,35.038],[2182.0,35.044],[2183.1,35.052],[2184.2,35.058],[2185.4,35.065],[2186.7,35.067],[2187.8,35.058],[2188.9,35.046],[2190.1,35.035],[2191.4,35.031],[2192.5,35.056],[2193.6,35.054],[2194.5,35.044],[2195.6,35.042],[2196.7,35.052],[2197.9,35.046],[2199.2,35.042],[2200.3,35.04],[2201.4,35.044],[2202.7,35.046],[2203.9,35.044],[2205.0,35.06],[2206.1,35.073],[2207.3,35.075],[2208.6,35.077],[2209.7,35.085],[2210.8,35.069],[2212.0,35.062],[2213.3,35.073],[2214.4,35.092],[2215.5,35.106],[2216.7,35.112],[2218.0,35.113],[2219.1,35.129],[2220.2,35.142],[2221.4,35.144],[2222.7,35.144],[2223.8,35.146],[2224.9,35.148],[2225.8,35.149],[2226.9,35.144],[2228.0,35.138],[2229.3,35.137],[2230.5,35.135],[2231.6,35.137],[2232.7,35.131],[2234.0,35.123],[2235.2,35.117],[2236.3,35.115],[2237.4,35.094],[2238.3,35.1],[2239.4,35.104],[2240.5,35.104],[2241.8,35.098],[2243.0,35.094],[2244.1,35.09],[2245.2,35.092],[2246.5,35.094],[2247.7,35.098],[2248.8,35.106],[2249.9,35.094],[2250.9,35.087],[2252.0,35.094],[2253.0,35.096],[2254.3,35.1],[2255.5,35.107],[2256.6,35.104],[2257.7,35.1],[2259.0,35.096],[2260.2,35.098],[2261.3,35.096],[2262.4,35.085],[2263.7,35.073],[2264.9,35.065],[2266.0,35.069],[2267.1,35.054],[2268.1,35.031],[2269.2,35.012],[2270.3,35.0],[2271.5,34.988],[2272.8,34.985],[2273.9,34.985],[2275.0,34.981],[2276.2,34.981],[2277.5,34.973],[2278.6,34.965],[2279.6,34.969],[2280.6,34.992],[2281.7,35.023],[2282.8,35.031],[2284.0,35.035],[2285.3,35.038],[2286.4,35.031],[2287.5,35.023],[2288.7,35.019],[2290.0,35.013],[2291.1,35.027],[2292.2,35.038],[2293.4,35.04],[2294.7,35.035],[2295.8,35.033],[2296.9,35.032],[2298.1,35.033],[2299.4,35.035],[2300.5,35.037],[2301.6,35.038],[2302.8,35.058],[2304.1,35.077],[2305.2,35.09],[2306.3,35.106],[2307.5,35.107],[2308.8,35.106],[2309.9,35.108],[2310.9,35.119],[2311.9,35.1],[2313.0,35.09],[2314.1,35.09],[2315.3,35.092],[2316.6,35.09],[2317.7,35.1],[2318.8,35.106],[2320.0,35.096],[2321.3,35.094],[2322.4,35.092],[2323.5,35.096],[2324.7,35.092],[2326.0,35.093],[2327.1,35.092],[2328.2,35.081],[2329.4,35.069],[2330.7,35.065],[2331.8,35.062],[2332.9,35.06],[2334.1,35.058],[2335.4,35.054],[2336.5,35.05],[2337.6,35.052],[2338.8,35.06],[2340.1,35.069],[2341.2,35.071],[2342.3,35.071],[2343.2,35.077],[2344.3,35.054],[2345.4,35.042],[2346.6,35.038],[2347.9,35.046],[2349.0,35.054],[2350.1,35.062],[2351.3,35.069],[2352.1,35.073]];

/* axis ticks and labels */
var xTicks = [2000, 2100, 2200, 2300];
var mldTicks = [0, -500, -1000, -1500, -2000];
var dimTicks = [0.06, 0.04, 0.02, 0, -0.02, -0.04];
var svTicks = [0, 50, 100, 150, 200, 250];
var psuTicks = [34.8, 34.9, 35.0, 35.05, 35.1, 35.15];
var psuLabels = ["34.8", "34.9", "35.0", "35.05", "35.1", "35.15"];

var legend1 = ["Labrador FW content (normalized)", "SSH (normalized)"];
var legend2 = ["CAA+FS", "FS", "CAA"];

var blue = "#2b50a4", red = "#ed1c24", green = "#0e7f38";

var svg = d3.select("#chart");
var left = 110, right = 975.5;
var x = d3.scaleLinear().domain([1948.3, 2355]).range([left, right]);

function evenRange(n, bottom, top) {
	// equally spaced pixel stops for the salinity axis
	return d3.range(n).map(function(i) { return bottom - i * (bottom - top) / (n - 1); });
}

var panels = [
	{ top: 37, bottom: 253, y: d3.scaleLinear().domain([-2000, 0]).range([253, 37]),
	  ticks: mldTicks, fmt: d3.format("d"), ylabel: "m",
	  series: [{ data: mld, color: "#000" }] },
	{ top: 297, bottom: 512.5, y: d3.scaleLinear().domain([-0.04, 0.06]).range([512.5, 297]),
	  ticks: dimTicks, fmt: d3.format(".2f"), ylabel: "dimensionless",
	  series: [{ data: fwContent, color: blue }, { data: ssh, color: red }] },
	{ top: 556, bottom: 772.5, y: d3.scaleLinear().domain([0, 260]).range([772.5, 556]),
	  ticks: svTicks, fmt: d3.format("d"), ylabel: "mSv",
	  series: [{ data: caaFs, color: blue }, { data: fs, color: red }, { data: caa, color: green }] },
	{ top: 817, bottom: 1033, y: d3.scaleLinear().domain(psuTicks).range(evenRange(psuTicks.length, 1033, 817)),
	  ticks: psuTicks, fmt: function(d, i) { return psuLabels[psuTicks.indexOf(d)]; }, ylabel: "PSU",
	  series: [{ data: salinity, color: "#000" }] }
];

panels.forEach(function(p, k) {
	var y = p.y;
	var g = svg.append("g");

	g.append("clipPath").attr("id", "clip" + k)
		.append("rect")
		.attr("x", left).attr("y", p.top)
		.attr("width", right - left).attr("height", p.bottom - p.top);

	// dotted grid
	g.selectAll(".hgrid").data(p.ticks).enter().append("line")
		.attr("x1", left).attr("x2", right)
		.attr("y1", function(d) { return y(d); }).attr("y2", function(d) { return y(d); })
		.attr("stroke", "#444").attr("stroke-width", 1).attr("stroke-dasharray", "1,3");
	g.selectAll(".vgrid").data(xTicks).enter().append("line")
		.attr("x1", function(d) { return x(d); }).attr("x2", function(d) { return x(d); })
		.attr("y1", p.top).attr("y2", p.bottom)
		.attr("stroke", "#444").attr("stroke-width", 1).attr("stroke-dasharray", "1,3");

	// series
	var line = d3.line().x(function(d) { return x(d[0]); }).y(function(d) { return y(d[1]); });
	p.series.forEach(function(s) {
		g.append("path").datum(s.data)
			.attr("clip-path", "url(#clip" + k + ")")
			.attr("d", line)
			.attr("fill", "none")
			.attr("stroke", s.color)
			.attr("stroke-width", 2.8)
			.attr("stroke-linejoin", "round");
	});

	// frame
	g.append("rect")
		.attr("x", left).attr("y", p.top)
		.attr("width", right - left + 5).attr("height", p.bottom - p.top)
		.attr("fill", "none").attr("stroke", "#000").attr("stroke-width", 1.3);

	// inward ticks
	g.selectAll(".ytick").data(p.ticks).enter().append("line")
		.attr("x1", left).attr("x2", left + 5)
		.attr("y1", function(d) { return y(d); }).attr("y2", function(d) { return y(d); })
		.attr("stroke", "#000");
	g.selectAll(".xtickb").data(xTicks).enter().append("line")
		.attr("x1", function(d) { return x(d); }).attr("x2", function(d) { return x(d); })
		.attr("y1", p.bottom).attr("y2", p.bottom - 5)
		.attr("stroke", "#000");
	g.selectAll(".xtickt").data(xTicks).enter().append("line")
		.attr("x1", function(d) { return x(d); }).attr("x2", function(d) { return x(d); })
		.attr("y1", p.top).attr("y2", p.top + 5)
		.attr("stroke", "#000");

	g.selectAll(".ylab").data(p.ticks).enter().append("text")
		.attr("x", left - 8)
		.attr("y", function(d) { return y(d); })
		.attr("dy", "0.36em")
		.attr("text-anchor", "end")
		.style("font-size", "19px")
		.text(p.fmt);

	g.append("text")
		.attr("transform", "translate(33," + ((p.top + p.bottom) / 2 + 2) + ") rotate(-90)")
		.attr("text-anchor", "middle")
		.style("font-size", "24px")
		.text(p.ylabel);
});

/* x tick labels only under the last panel */
svg.selectAll(".xlab").data(xTicks).enter().append("text")
	.attr("x", function(d) { return x(d); })
	.attr("y", 1056)
	.attr("text-anchor", "middle")
	.style("font-size", "19px")
	.text(function(d) { return d; });

svg.append("text").attr("x", 545).attr("y", 1074)
	.attr("text-anchor", "middle").style("font-size", "24px").text("year");

svg.append("text").attr("x", 546).attr("y", 31)
	.attr("text-anchor", "middle").style("font-size", "24.5px").text("Labrador MLD maximum");
svg.append("text").attr("x", 546).attr("y", 810)
	.attr("text-anchor", "middle").style("font-size", "24.5px").text("Labrador deep salinity (1600m)");

/* legends, drawn over the data */
function drawLegend(box, labels, colors, handleX, textX) {
	var g = svg.append("g");
	g.append("rect")
		.attr("x", box.x + 3).attr("y", box.y + 3)
		.attr("width", box.w).attr("height", box.h).attr("rx", 4)
		.attr("fill", "#888").attr("opacity", 0.8);
	g.append("rect")
		.attr("x", box.x).attr("y", box.y)
		.attr("width", box.w).attr("height", box.h).attr("rx", 4)
		.attr("fill", "#fff").attr("stroke", "#000").attr("stroke-width", 1.3);
	var cy = box.y + box.h / 2;
	labels.forEach(function(l, i) {
		g.append("line")
			.attr("x1", handleX[i]).attr("x2", handleX[i] + 37)
			.attr("y1", cy).attr("y2", cy)
			.attr("stroke", colors[i]).attr("stroke-width", 2.8);
		g.append("text")
			.attr("x", textX[i]).attr("y", cy).attr("dy", "0.36em")
			.style("font-size", "24.5px")
			.text(l);
	});
}

drawLegend({ x: 125, y: 265.5, w: 838, h: 42 }, legend1, [blue, red], [140, 680], [203, 743]);
drawLegend({ x: 296, y: 525, w: 496, h: 38 }, legend2, [blue, red, green], [312, 528, 672], [373, 590, 733]);
</script>
</body>
</html>
